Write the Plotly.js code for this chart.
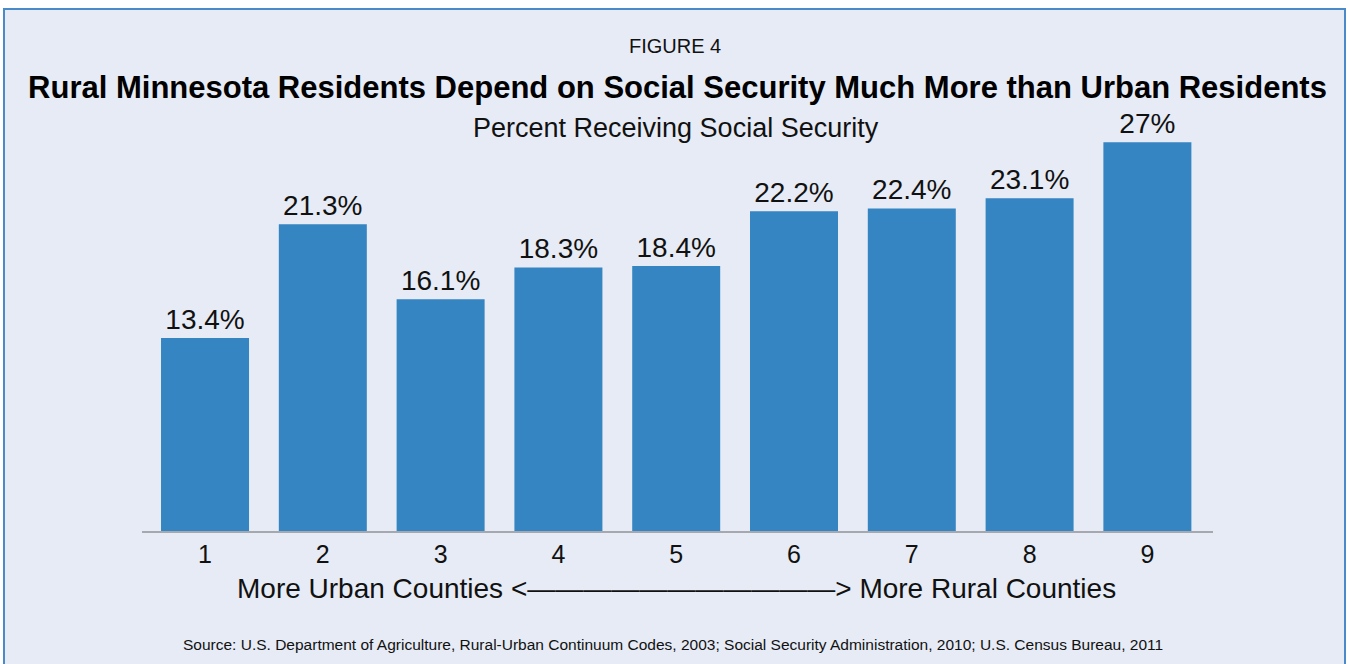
<!DOCTYPE html>
<html>
<head>
<meta charset="utf-8">
<script src="https://cdn.plot.ly/plotly-3.0.1.min.js"></script>
<style>
  html, body { margin: 0; padding: 0; background: #ffffff; }
  #chart { width: 1348px; height: 664px; }
</style>
</head>
<body>
<div id="chart"></div>
<script>
// ---- Data ----
const categories = ["1", "2", "3", "4", "5", "6", "7", "8", "9"];
const percentReceiving = [13.4, 21.3, 16.1, 18.3, 18.4, 22.2, 22.4, 23.1, 27];

// ---- Text ----
const figureLabel = "FIGURE 4";
const mainTitle = "Rural Minnesota Residents Depend on Social Security Much More than Urban Residents";
const subTitle = "Percent Receiving Social Security";
const axisCaption = "More Urban Counties <\u2014\u2014\u2014\u2014\u2014\u2014\u2014\u2014\u2014\u2014\u2014> More Rural Counties";
const sourceNote = "Source: U.S. Department of Agriculture, Rural-Urban Continuum Codes, 2003; Social Security Administration, 2010; U.S. Census Bureau, 2011";

const FONT = "'Liberation Sans', Arial, Helvetica, sans-serif";
const BG = "#e6ebf5";

const trace = {
  type: "bar",
  x: categories,
  y: percentReceiving,
  marker: { color: "#3585c2" },
  texttemplate: "%{y}%",
  textposition: "outside",
  textfont: { family: FONT, size: 28, color: "#111111" },
  cliponaxis: false,
  hoverinfo: "skip"
};

const layout = {
  width: 1348,
  height: 664,
  margin: { l: 142, r: 135, t: 99, b: 133, pad: 0 },
  paper_bgcolor: "#ffffff",
  plot_bgcolor: BG,
  showlegend: false,
  bargap: 0.253,
  font: { family: FONT, color: "#111111" },
  title: {
    text: "<b>" + mainTitle + "</b>",
    font: { family: FONT, size: 31, color: "#000000" },
    x: 0.5, xanchor: "center", xref: "paper",
    y: 1 - 87 / 664, yanchor: "middle", yref: "container"
  },
  xaxis: {
    type: "category",
    range: [-0.535, 8.557],
    showgrid: false,
    zeroline: false,
    showline: true,
    linecolor: "#a6a8b0",
    linewidth: 2,
    ticks: "",
    tickfont: { family: FONT, size: 25, color: "#111111" },
    fixedrange: true
  },
  yaxis: {
    range: [0, 30],
    visible: false,
    showgrid: false,
    zeroline: false,
    fixedrange: true
  },
  shapes: [
    {
      type: "rect", xref: "paper", yref: "paper", layer: "below",
      x0: (4 - 142) / 1071, x1: (1345 - 142) / 1071,
      y0: (531 - 672) / 432, y1: (531 - 9) / 432,
      line: { color: "#4a8ac9", width: 2 },
      fillcolor: BG
    }
  ],
  annotations: [
    {
      text: figureLabel, xref: "paper", yref: "paper",
      x: (675 - 142) / 1071, y: (531 - 46) / 432,
      xanchor: "center", yanchor: "middle", showarrow: false,
      font: { family: FONT, size: 20, color: "#111111" }
    },
    {
      text: subTitle, xref: "paper", yref: "paper",
      x: (676 - 142) / 1071, y: (531 - 128) / 432,
      xanchor: "center", yanchor: "middle", showarrow: false,
      font: { family: FONT, size: 27, color: "#111111" }
    },
    {
      text: axisCaption, xref: "paper", yref: "paper",
      x: (676 - 142) / 1071, y: (531 - 588) / 432,
      xanchor: "center", yanchor: "middle", showarrow: false,
      font: { family: FONT, size: 28, color: "#111111" }
    },
    {
      text: sourceNote, xref: "paper", yref: "paper",
      x: (673 - 142) / 1071, y: (531 - 644) / 432,
      xanchor: "center", yanchor: "middle", showarrow: false,
      font: { family: FONT, size: 15.5, color: "#111111" }
    }
  ]
};

Plotly.newPlot("chart", [trace], layout, { displayModeBar: false, staticPlot: true });
</script>
</body>
</html>
